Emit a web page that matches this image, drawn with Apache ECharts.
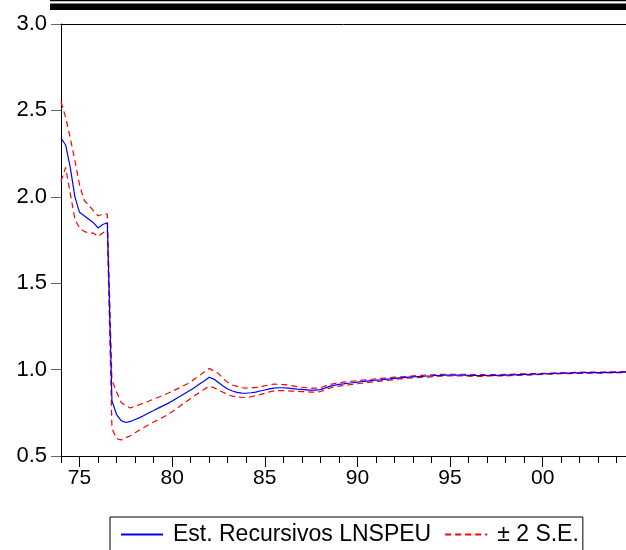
<!DOCTYPE html>
<html>
<head>
<meta charset="utf-8">
<script src="https://cdn.jsdelivr.net/npm/echarts@6/dist/echarts.min.js"></script>
<style>
html,body{margin:0;padding:0;background:#fff;}
#chart{width:626px;height:550px;}
</style>
</head>
<body>
<div id="chart"></div>
<script>
// Quarterly observations starting 1974Q1
const startYear = 1974;
const periodsPerYear = 4;

const estimate = [
  2.34, 2.30, 2.17, 2.00, 1.91, 1.89, 1.87, 1.85, 1.82, 1.84, 1.85, 0.82,
  0.74, 0.705, 0.694, 0.700, 0.711, 0.722, 0.736, 0.750, 0.763, 0.777, 0.790, 0.803,
  0.818, 0.834, 0.850, 0.866, 0.882, 0.900, 0.918, 0.936, 0.956, 0.945, 0.925, 0.905,
  0.888, 0.876, 0.868, 0.864, 0.863, 0.866, 0.870, 0.876, 0.882, 0.888, 0.893, 0.895,
  0.895, 0.893, 0.890, 0.887, 0.885, 0.883, 0.881, 0.881, 0.884, 0.893, 0.903, 0.909,
  0.914, 0.917, 0.921, 0.924, 0.927, 0.930, 0.933, 0.936, 0.939, 0.941, 0.944, 0.946,
  0.949, 0.952, 0.954, 0.956, 0.958, 0.960, 0.961, 0.963, 0.964, 0.966, 0.967, 0.968,
  0.968, 0.968, 0.968, 0.968, 0.967, 0.966, 0.966, 0.966, 0.966, 0.967, 0.967, 0.967,
  0.968, 0.969, 0.970, 0.971, 0.972, 0.972, 0.973, 0.974, 0.975, 0.976, 0.977, 0.978,
  0.979, 0.980, 0.980, 0.981, 0.981, 0.982, 0.982, 0.983, 0.983, 0.983, 0.984, 0.984,
  0.984, 0.985, 0.985
];

const upperBand = [
  2.55, 2.46, 2.34, 2.21, 2.07, 1.98, 1.95, 1.92, 1.89, 1.90, 1.90, 0.94,
  0.87, 0.81, 0.79, 0.778, 0.789, 0.798, 0.808, 0.818, 0.829, 0.840, 0.851, 0.862,
  0.874, 0.887, 0.901, 0.914, 0.928, 0.949, 0.968, 0.988, 1.007, 0.992, 0.977, 0.949,
  0.926, 0.911, 0.903, 0.895, 0.893, 0.895, 0.896, 0.901, 0.906, 0.912, 0.916, 0.915,
  0.913, 0.911, 0.906, 0.901, 0.898, 0.895, 0.893, 0.893, 0.895, 0.904, 0.913, 0.919,
  0.924, 0.927, 0.930, 0.933, 0.936, 0.939, 0.941, 0.944, 0.947, 0.949, 0.951, 0.953,
  0.956, 0.958, 0.960, 0.962, 0.964, 0.966, 0.967, 0.969, 0.970, 0.971, 0.972, 0.973,
  0.973, 0.973, 0.973, 0.973, 0.972, 0.971, 0.971, 0.971, 0.970, 0.971, 0.971, 0.971,
  0.972, 0.973, 0.974, 0.975, 0.976, 0.976, 0.977, 0.977, 0.978, 0.979, 0.980, 0.981,
  0.982, 0.983, 0.983, 0.984, 0.984, 0.985, 0.985, 0.986, 0.986, 0.986, 0.987, 0.987,
  0.987, 0.988, 0.988
];

const lowerBand = [
  2.09, 2.17, 2.02, 1.87, 1.82, 1.80, 1.79, 1.79, 1.77, 1.79, 1.81, 0.66,
  0.60, 0.593, 0.606, 0.617, 0.634, 0.650, 0.666, 0.682, 0.697, 0.710, 0.724, 0.739,
  0.756, 0.775, 0.795, 0.814, 0.833, 0.851, 0.869, 0.887, 0.904, 0.896, 0.881, 0.869,
  0.857, 0.846, 0.842, 0.840, 0.838, 0.843, 0.849, 0.855, 0.863, 0.871, 0.877, 0.878,
  0.878, 0.877, 0.876, 0.874, 0.873, 0.872, 0.870, 0.870, 0.873, 0.882, 0.893, 0.899,
  0.904, 0.907, 0.912, 0.915, 0.918, 0.921, 0.925, 0.928, 0.931, 0.933, 0.937, 0.939,
  0.942, 0.946, 0.948, 0.950, 0.952, 0.954, 0.955, 0.957, 0.958, 0.961, 0.962, 0.963,
  0.963, 0.963, 0.963, 0.963, 0.962, 0.961, 0.961, 0.961, 0.962, 0.963, 0.963, 0.963,
  0.964, 0.965, 0.966, 0.967, 0.968, 0.968, 0.969, 0.971, 0.972, 0.973, 0.974, 0.975,
  0.976, 0.977, 0.977, 0.978, 0.978, 0.979, 0.979, 0.980, 0.980, 0.980, 0.981, 0.981,
  0.981, 0.982, 0.982
];

const xMinorTickYears = [1974,1975,1976,1977,1978,1979,1980,1981,1982,1983,1984,1985,1986,1987,1988,1989,1990,1991,1992,1993,1994,1995,1996,1997,1998,1999,2000,2001,2002,2003,2004];
const xMajorTickYears = [1975, 1980, 1985, 1990, 1995, 2000];
const xTickLabels = ['75', '80', '85', '90', '95', '00'];
const yTickLabels = ['0.5', '1.0', '1.5', '2.0', '2.5', '3.0'];

const seriesNames = ['Est. Recursivos LNSPEU', '\u00b1 2 S.E.'];

function toPairs(arr) {
  return arr.map((v, i) => [startYear + i / periodsPerYear, v]);
}

const FONT = "'Liberation Sans', Arial, sans-serif";
const X_MIN = 1974, X_MAX = 2004.5;

const chart = echarts.init(document.getElementById('chart'), null, {renderer: 'canvas'});

const option = {
  animation: false,
  backgroundColor: '#ffffff',
  grid: {left: 61, right: 0, top: 24, bottom: 94, containLabel: false},
  graphic: [
    {type: 'rect', shape: {x: 50, y: 0, width: 576, height: 1.2}, style: {fill: '#000'}},
    {type: 'rect', shape: {x: 50, y: 3.5, width: 576, height: 6.5}, style: {fill: '#000'}}
  ],
  legend: {
    left: 110,
    top: 517,
    padding: [6, 4, 30, 10],
    borderColor: '#000',
    borderWidth: 1,
    itemWidth: 42,
    itemHeight: 14,
    itemGap: 13,
    data: seriesNames,
    itemStyle: {opacity: 0},
    textStyle: {fontSize: 23, fontFamily: FONT, color: '#000', padding: [0, 4, 0, 5]}
  },
  xAxis: [
    {
      type: 'value', min: X_MIN, max: X_MAX, position: 'bottom',
      axisLine: {show: true, onZero: false, lineStyle: {color: '#000', width: 1}},
      axisTick: {show: true, inside: false, length: 7, customValues: xMinorTickYears, lineStyle: {color: '#000'}},
      axisLabel: {show: false},
      splitLine: {show: false}
    },
    {
      type: 'value', min: X_MIN, max: X_MAX, position: 'bottom',
      axisLine: {show: false, onZero: false},
      axisTick: {show: true, inside: false, length: 11, customValues: xMajorTickYears, lineStyle: {color: '#000'}},
      axisLabel: {
        show: true, margin: 12, customValues: xMajorTickYears,
        fontSize: 21, fontFamily: FONT, color: '#000',
        formatter: function (v) { const k = xMajorTickYears.indexOf(Math.round(v)); return k >= 0 ? xTickLabels[k] : ''; }
      },
      splitLine: {show: false}
    },
    {
      type: 'value', min: X_MIN, max: X_MAX, position: 'top',
      axisLine: {show: true, onZero: false, lineStyle: {color: '#000', width: 1}},
      axisTick: {show: false}, axisLabel: {show: false}, splitLine: {show: false}
    }
  ],
  yAxis: {
    type: 'value', min: 0.5, max: 3.0, interval: 0.5,
    axisLine: {show: true, onZero: false, lineStyle: {color: '#000', width: 1}},
    axisTick: {show: true, inside: false, length: 10, lineStyle: {color: '#666'}},
    axisLabel: {
      margin: 14, fontSize: 22, fontFamily: FONT, color: '#000',
      formatter: function (v) { return yTickLabels[Math.round((v - 0.5) / 0.5)]; }
    },
    splitLine: {show: false}
  },
  series: [
    {
      name: seriesNames[0], type: 'line', xAxisIndex: 0, data: toPairs(estimate),
      showSymbol: false, symbol: 'none', z: 3,
      lineStyle: {color: '#0000ff', width: 1.2}, itemStyle: {color: '#0000ff'}
    },
    {
      name: seriesNames[1], type: 'line', xAxisIndex: 0, data: toPairs(upperBand),
      showSymbol: false, symbol: 'none', z: 2,
      lineStyle: {color: '#ff0000', width: 1.2, type: [6, 4]}, itemStyle: {color: '#ff0000'}
    },
    {
      name: seriesNames[1], type: 'line', xAxisIndex: 0, data: toPairs(lowerBand),
      showSymbol: false, symbol: 'none', z: 2,
      lineStyle: {color: '#ff0000', width: 1.2, type: [6, 4]}, itemStyle: {color: '#ff0000'}
    }
  ]
};

chart.setOption(option);
</script>
</body>
</html>
